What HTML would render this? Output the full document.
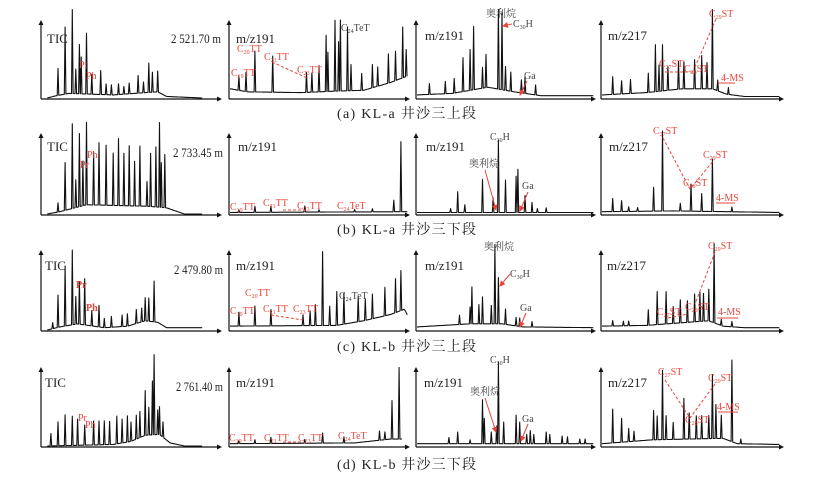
<!DOCTYPE html>
<html><head><meta charset="utf-8">
<style>
html,body{margin:0;padding:0;background:#fff;}
svg{display:block;font-family:"Liberation Serif","Noto Serif CJK SC",serif;}
.lbl{font-size:13px;fill:#222;}
.ann{font-size:10px;}
.red{fill:#e8453c;}
.gry{fill:#444;}
.cap{font-size:14px;fill:#222;font-family:"Liberation Serif","Noto Serif CJK SC",serif;}
</style></head>
<body>
<svg id="chart" width="824" height="477" viewBox="0 0 824 477">
<defs>
<marker id="ah" markerWidth="6" markerHeight="6" refX="5" refY="3" orient="auto"><path d="M0,0 L6,3 L0,6 z" fill="#e8453c"/></marker>
</defs>
<g id="traces"></g>
<g id="annots">
<!-- row a -->
<text class="lbl" x="47" y="43">TIC</text>
<text class="lbl" x="171" y="43" font-size="11" textLength="50" lengthAdjust="spacingAndGlyphs">2 521.70 m</text>
<text class="ann red" x="79" y="68">Pr</text>
<text class="ann red" x="86" y="79">Ph</text>
<text class="lbl" x="236" y="43">m/z191</text>
<text class="ann red" x="231" y="76">C<tspan font-size="6" dy="2">19</tspan><tspan dy="-2">TT</tspan></text>
<text class="ann red" x="237" y="52">C<tspan font-size="6" dy="2">20</tspan><tspan dy="-2">TT</tspan></text>
<text class="ann red" x="264" y="60">C<tspan font-size="6" dy="2">21</tspan><tspan dy="-2">TT</tspan></text>
<text class="ann red" x="297" y="73">C<tspan font-size="6" dy="2">23</tspan><tspan dy="-2">TT</tspan></text>
<text class="ann gry" x="341" y="31">C<tspan font-size="6" dy="2">24</tspan><tspan dy="-2">TeT</tspan></text>
<line x1="272" y1="62" x2="307" y2="78" stroke="#e8453c" stroke-dasharray="3,2"/>
<text class="lbl" x="425" y="40">m/z191</text>
<text class="ann gry" x="486" y="17">奥利烷</text>
<text class="ann gry" x="513" y="27">C<tspan font-size="6" dy="2">30</tspan><tspan dy="-2">H</tspan></text>
<line x1="512" y1="24" x2="503" y2="26" stroke="#e8453c" marker-end="url(#ah)"/>
<text class="ann gry" x="524" y="79">Ga</text>
<line x1="527" y1="81" x2="520" y2="95" stroke="#e8453c" marker-end="url(#ah)"/>
<text class="lbl" x="608" y="40">m/z217</text>
<text class="ann red" x="709" y="17">C<tspan font-size="6" dy="2">29</tspan><tspan dy="-2">ST</tspan></text>
<text class="ann red" x="659" y="67">C<tspan font-size="6" dy="2">27</tspan><tspan dy="-2">ST</tspan></text>
<text class="ann red" x="684" y="72">C<tspan font-size="6" dy="2">28</tspan><tspan dy="-2">ST</tspan></text>
<text class="ann red" x="721" y="81">4-MS</text>
<polyline points="665,72 695,72" fill="none" stroke="#e8453c" stroke-dasharray="3,2"/>
<line x1="716" y1="19" x2="695" y2="67" stroke="#e8453c" stroke-dasharray="3,2"/>
<line x1="718" y1="83" x2="735" y2="83" stroke="#e8453c"/>
<text class="cap" x="337" y="118" textLength="139" lengthAdjust="spacing">(a) KL-a 井沙三上段</text>
<!-- row b -->
<text class="lbl" x="47" y="151">TIC</text>
<text class="lbl" x="173" y="157" font-size="11" textLength="50" lengthAdjust="spacingAndGlyphs">2 733.45 m</text>
<text class="ann red" x="87" y="158">Ph</text>
<text class="ann red" x="80" y="168">Pr</text>
<text class="lbl" x="238" y="151">m/z191</text>
<text class="ann red" x="230" y="210">C<tspan font-size="6" dy="2">19</tspan><tspan dy="-2">TT</tspan></text>
<text class="ann red" x="263" y="206">C<tspan font-size="6" dy="2">21</tspan><tspan dy="-2">TT</tspan></text>
<text class="ann red" x="297" y="209">C<tspan font-size="6" dy="2">23</tspan><tspan dy="-2">TT</tspan></text>
<text class="ann red" x="337" y="209">C<tspan font-size="6" dy="2">24</tspan><tspan dy="-2">TeT</tspan></text>
<line x1="283" y1="210" x2="305" y2="210" stroke="#e8453c" stroke-dasharray="3,2"/>
<text class="lbl" x="426" y="151">m/z191</text>
<text class="ann gry" x="490" y="140">C<tspan font-size="6" dy="2">30</tspan><tspan dy="-2">H</tspan></text>
<text class="ann gry" x="469" y="167">奥利烷</text>
<line x1="485" y1="170" x2="496" y2="210" stroke="#e8453c" marker-end="url(#ah)"/>
<text class="ann gry" x="522" y="189">Ga</text>
<line x1="528" y1="192" x2="520" y2="211" stroke="#e8453c" marker-end="url(#ah)"/>
<text class="lbl" x="609" y="151">m/z217</text>
<text class="ann red" x="653" y="134">C<tspan font-size="6" dy="2">27</tspan><tspan dy="-2">ST</tspan></text>
<text class="ann red" x="703" y="158">C<tspan font-size="6" dy="2">29</tspan><tspan dy="-2">ST</tspan></text>
<text class="ann red" x="683" y="186">C<tspan font-size="6" dy="2">28</tspan><tspan dy="-2">ST</tspan></text>
<text class="ann red" x="716" y="201">4-MS</text>
<polyline points="663,138 690,189 714,160" fill="none" stroke="#e8453c" stroke-dasharray="3,2"/>
<line x1="716" y1="203" x2="735" y2="203" stroke="#e8453c"/>
<text class="cap" x="337" y="234" textLength="139" lengthAdjust="spacing">(b) KL-a 井沙三下段</text>
<!-- row c -->
<text class="lbl" x="45" y="270">TIC</text>
<text class="lbl" x="174" y="274" font-size="11" textLength="49" lengthAdjust="spacingAndGlyphs">2 479.80 m</text>
<text class="ann red" x="76" y="288" font-weight="bold">Pr</text>
<text class="ann red" x="86" y="311" font-weight="bold">Ph</text>
<text class="lbl" x="236" y="270">m/z191</text>
<text class="ann red" x="230" y="314">C<tspan font-size="6" dy="2">19</tspan><tspan dy="-2">TT</tspan></text>
<text class="ann red" x="245" y="296">C<tspan font-size="6" dy="2">20</tspan><tspan dy="-2">TT</tspan></text>
<text class="ann red" x="263" y="312">C<tspan font-size="6" dy="2">21</tspan><tspan dy="-2">TT</tspan></text>
<text class="ann red" x="293" y="312">C<tspan font-size="6" dy="2">23</tspan><tspan dy="-2">TT</tspan></text>
<text class="ann gry" x="339" y="299">C<tspan font-size="6" dy="2">24</tspan><tspan dy="-2">TeT</tspan></text>
<line x1="271" y1="315" x2="303" y2="320" stroke="#e8453c" stroke-dasharray="3,2"/>
<text class="lbl" x="425" y="270">m/z191</text>
<text class="ann gry" x="484" y="250">奥利烷</text>
<text class="ann gry" x="510" y="277">C<tspan font-size="6" dy="2">30</tspan><tspan dy="-2">H</tspan></text>
<line x1="510" y1="274" x2="500" y2="286" stroke="#e8453c" marker-end="url(#ah)"/>
<text class="ann gry" x="520" y="311">Ga</text>
<line x1="526" y1="313" x2="520" y2="327" stroke="#e8453c" marker-end="url(#ah)"/>
<text class="lbl" x="607" y="270">m/z217</text>
<text class="ann red" x="708" y="249">C<tspan font-size="6" dy="2">29</tspan><tspan dy="-2">ST</tspan></text>
<text class="ann red" x="657" y="315">C<tspan font-size="6" dy="2">27</tspan><tspan dy="-2">ST</tspan></text>
<text class="ann red" x="685" y="310">C<tspan font-size="6" dy="2">28</tspan><tspan dy="-2">ST</tspan></text>
<text class="ann red" x="718" y="315">4-MS</text>
<line x1="715" y1="252" x2="695" y2="304" stroke="#e8453c" stroke-dasharray="3,2"/>
<line x1="668" y1="318" x2="688" y2="314" stroke="#e8453c" stroke-dasharray="3,2"/>
<line x1="717" y1="318" x2="738" y2="318" stroke="#e8453c"/>
<text class="cap" x="337" y="351" textLength="139" lengthAdjust="spacing">(c) KL-b 井沙三上段</text>
<!-- row d -->
<text class="lbl" x="45" y="387">TIC</text>
<text class="lbl" x="176" y="391" font-size="11" textLength="47" lengthAdjust="spacingAndGlyphs">2 761.40 m</text>
<text class="ann red" x="78" y="421">Pr</text>
<text class="ann red" x="85" y="428">Ph</text>
<text class="lbl" x="236" y="387">m/z191</text>
<text class="ann red" x="229" y="441">C<tspan font-size="6" dy="2">19</tspan><tspan dy="-2">TT</tspan></text>
<text class="ann red" x="264" y="441">C<tspan font-size="6" dy="2">21</tspan><tspan dy="-2">TT</tspan></text>
<text class="ann red" x="298" y="441">C<tspan font-size="6" dy="2">23</tspan><tspan dy="-2">TT</tspan></text>
<text class="ann red" x="338" y="439">C<tspan font-size="6" dy="2">24</tspan><tspan dy="-2">TeT</tspan></text>
<line x1="283" y1="442" x2="303" y2="442" stroke="#e8453c" stroke-dasharray="3,2"/>
<text class="lbl" x="424" y="387">m/z191</text>
<text class="ann gry" x="490" y="363">C<tspan font-size="6" dy="2">30</tspan><tspan dy="-2">H</tspan></text>
<text class="ann gry" x="470" y="395">奥利烷</text>
<line x1="485" y1="398" x2="496" y2="432" stroke="#e8453c" marker-end="url(#ah)"/>
<text class="ann gry" x="522" y="422">Ga</text>
<line x1="528" y1="424" x2="521" y2="441" stroke="#e8453c" marker-end="url(#ah)"/>
<text class="lbl" x="608" y="387">m/z217</text>
<text class="ann red" x="658" y="375">C<tspan font-size="6" dy="2">27</tspan><tspan dy="-2">ST</tspan></text>
<text class="ann red" x="708" y="381">C<tspan font-size="6" dy="2">29</tspan><tspan dy="-2">ST</tspan></text>
<text class="ann red" x="685" y="423">C<tspan font-size="6" dy="2">28</tspan><tspan dy="-2">ST</tspan></text>
<text class="ann red" x="717" y="410">4-MS</text>
<polyline points="665,380 690,418 715,384" fill="none" stroke="#e8453c" stroke-dasharray="3,2"/>
<line x1="718" y1="412" x2="738" y2="412" stroke="#e8453c"/>
<text class="cap" x="337" y="469" textLength="139" lengthAdjust="spacing">(d) KL-b 井沙三下段</text>
</g>
</svg>
<script>
// peaks: [retention-time %, intensity %]
const ticA=[[9,35],[13,87],[17,109],[19,32],[21,64],[22,48],[25,79],[28,26],[33,31],[36,14],[39,13],[43,14],[46,10],[49,14],[54,23],[57,14],[60,38],[62,26],[65,27]];
const ticABase=[[3,0],[8,3],[15,6],[40,4],[58,7],[65,8],[70,2],[90,0]];
const m191A1=[[5,19],[9,25],[14,53],[24,47],[43,26],[46,25],[50,34],[54,73],[55,51],[59,92],[61,64],[62,92],[66,83],[68,34],[74,22],[80,30],[83,25],[89,38],[93,38],[97,66],[99,35]];
const m191A1Base=[[0,12],[10,8],[40,7],[60,9],[75,10],[90,20],[99,28]];
const m191A2=[[7,14],[16,16],[21,19],[26,44],[30,53],[32,82],[37,27],[39,43],[46,103],[48,100],[50,31],[53,25],[59,17],[61,21],[67,13]];
const m191A2Base=[[0,4],[20,6],[40,14],[55,8],[70,3],[100,3]];
const m217A=[[6,23],[11,17],[16,18],[26,25],[30,61],[32,34],[34,60],[37,31],[43,36],[46,35],[52,38],[56,43],[59,34],[62,103],[65,14],[71,9]];
const m217ABase=[[0,4],[25,7],[45,12],[62,12],[70,5],[80,2],[100,2]];

const ticB=[[9,12],[13,62],[17,110],[19,36],[21,95],[23,58],[25,107],[29,69],[32,81],[36,78],[40,68],[43,87],[46,68],[49,78],[52,58],[55,78],[59,32],[61,69],[64,78],[66,110],[67,58],[69,69]];
const ticBBase=[[3,0],[10,3],[25,12],[60,10],[70,8],[80,0],[90,0]];
const m191B1=[[5,3],[14,8],[23,8],[42,8],[50,3],[70,3],[80,4],[92,15],[96,91]];
const m191B1Base=[[0,2],[100,3]];
const m191B2=[[19,5],[23,27],[27,10],[37,43],[43,19],[46,94],[50,42],[56,47],[57,56],[61,22],[65,13],[68,5],[73,6]];
const m191B2Base=[[0,2],[100,2]];
const m217B=[[6,17],[11,14],[15,6],[20,5],[29,31],[34,104],[44,10],[50,35],[56,23],[62,68],[73,6]];
const m217BBase=[[0,3],[40,4],[70,3],[100,2]];

const ticC=[[6,8],[9,42],[13,78],[17,97],[19,36],[21,55],[24,60],[28,20],[32,28],[35,12],[39,14],[45,15],[48,16],[53,18],[56,18],[58,30],[60,30],[63,53]];
const ticCBase=[[3,0],[10,4],[20,8],[35,3],[48,5],[58,12],[65,10],[70,3],[90,3]];
const m191C1=[[5,18],[14,26],[23,21],[41,14],[45,19],[48,27],[52,96],[56,25],[60,44],[64,40],[72,32],[76,28],[80,32],[87,37],[93,44],[96,52]];
const m191C1Base=[[0,5],[60,6],[75,12],[90,20],[98,27],[100,18]];
const m191C2=[[24,12],[30,22],[31,48],[35,25],[37,35],[42,24],[44,103],[46,60],[50,20],[56,11],[58,11],[65,7]];
const m191C2Base=[[0,4],[30,8],[48,8],[60,4],[100,3]];
const m217C=[[6,7],[12,6],[15,6],[26,20],[31,43],[36,42],[40,22],[44,30],[48,28],[52,36],[55,38],[57,36],[60,41],[63,103],[67,8],[73,7]];
const m217CBase=[[0,5],[25,6],[60,12],[68,5],[80,3],[100,3]];

const ticD=[[5,16],[9,31],[13,40],[17,38],[20,34],[24,26],[29,31],[32,31],[35,31],[38,30],[42,36],[45,31],[48,34],[50,25],[53,31],[55,34],[58,58],[60,36],[62,70],[63,104],[65,32],[66,36],[68,20]];
const ticDBase=[[3,0],[40,2],[50,6],[58,14],[66,15],[72,4],[80,0],[90,0]];
const m191D1=[[5,4],[14,5],[23,8],[42,5],[52,13],[64,8],[84,12],[87,10],[91,50],[95,93]];
const m191D1Base=[[0,3],[70,4],[90,9],[96,9]];
const m191D2=[[18,8],[23,15],[30,5],[37,57],[38,33],[42,15],[45,23],[46,106],[49,28],[56,37],[58,28],[62,12],[64,17],[66,12],[73,15],[75,12],[82,10],[85,9],[92,6],[95,6]];
const m191D2Base=[[0,3],[100,3]];
const m217D=[[6,44],[11,31],[15,17],[18,13],[29,38],[31,31],[34,90],[36,31],[40,22],[46,53],[49,34],[53,30],[56,30],[60,30],[62,83],[64,44],[67,30],[73,106],[78,6]];
const m217DBase=[[0,3],[28,8],[68,10],[76,3],[100,2]];

// panel layout (geometry only)
const cols=[{x:41,w:181,end:222},{x:229,w:181,end:410},{x:416,w:180,end:596},{x:601,w:181,end:784}];
const rows=[{b:99,t:20},{b:215,t:133},{b:331,t:250},{b:447,t:367}];
const H=77;
const panels=[
 [ticA,ticABase,0,0,90],[m191A1,m191A1Base,0,1,99],[m191A2,m191A2Base,0,2,100],[m217A,m217ABase,0,3,100],
 [ticB,ticBBase,1,0,90],[m191B1,m191B1Base,1,1,100],[m191B2,m191B2Base,1,2,100],[m217B,m217BBase,1,3,100],
 [ticC,ticCBase,2,0,90],[m191C1,m191C1Base,2,1,100],[m191C2,m191C2Base,2,2,100],[m217C,m217CBase,2,3,100],
 [ticD,ticDBase,3,0,90],[m191D1,m191D1Base,3,1,97],[m191D2,m191D2Base,3,2,100],[m217D,m217DBase,3,3,100]
];
const NS="http://www.w3.org/2000/svg";
const g=document.getElementById('traces');
function interp(base,r){
  if(r<=base[0][0])return base[0][1];
  for(let i=1;i<base.length;i++){if(r<=base[i][0]){const a=base[i-1],b=base[i];return a[1]+(b[1]-a[1])*(r-a[0])/(b[0]-a[0]);}}
  return base[base.length-1][1];
}
panels.forEach((p,idx)=>{
  const [pk,base,ri,ci,endRt]=p;
  const c=cols[ci],r=rows[ri];
  const xs=v=>c.x+1+v/100*(c.w-3);
  const ys=v=>r.b-1-v/100*H;
  const ax=document.createElementNS(NS,'path');
  ax.setAttribute('d',`M${c.x},${r.b} L${c.x},${r.t+3} M${c.x},${r.b} L${c.end-3},${r.b}`);
  ax.setAttribute('stroke','#111');ax.setAttribute('stroke-width','1.2');ax.setAttribute('fill','none');
  
  
  g.appendChild(ax);
  const ar=document.createElementNS(NS,'path');
  ar.setAttribute('d',`M${c.x-2.5},${r.t+5} L${c.x},${r.t} L${c.x+2.5},${r.t+5}z M${c.end-5},${r.b-2.5} L${c.end},${r.b} L${c.end-5},${r.b+2.5}z`);
  ar.setAttribute('fill','#111');
  
  
  g.appendChild(ar);
  const hw=0.45;
  let pts=[];
  const start=base[0][0]>0?base[0][0]:0;
  for(let t=start;t<=endRt;t+=0.6){
    if(!pk.some(q=>Math.abs(q[0]-t)<hw))pts.push([t,interp(base,t)]);
  }
  pk.forEach(q=>{const b0=interp(base,q[0]);pts.push([q[0]-hw,interp(base,q[0]-hw)]);pts.push([q[0],b0+q[1]]);pts.push([q[0]+hw,interp(base,q[0]+hw)]);});
  pts.sort((a,b)=>a[0]-b[0]);
  const d='M'+pts.map(q=>xs(q[0]).toFixed(1)+','+ys(q[1]).toFixed(1)).join(' L');
  const pl=document.createElementNS(NS,'path');
  pl.setAttribute('d',d);pl.setAttribute('fill','none');pl.setAttribute('stroke','#111');pl.setAttribute('stroke-width','1.1');
  pl.setAttribute('stroke-linejoin','round');
  
  
  g.appendChild(pl);
});
</script>
</body></html>
